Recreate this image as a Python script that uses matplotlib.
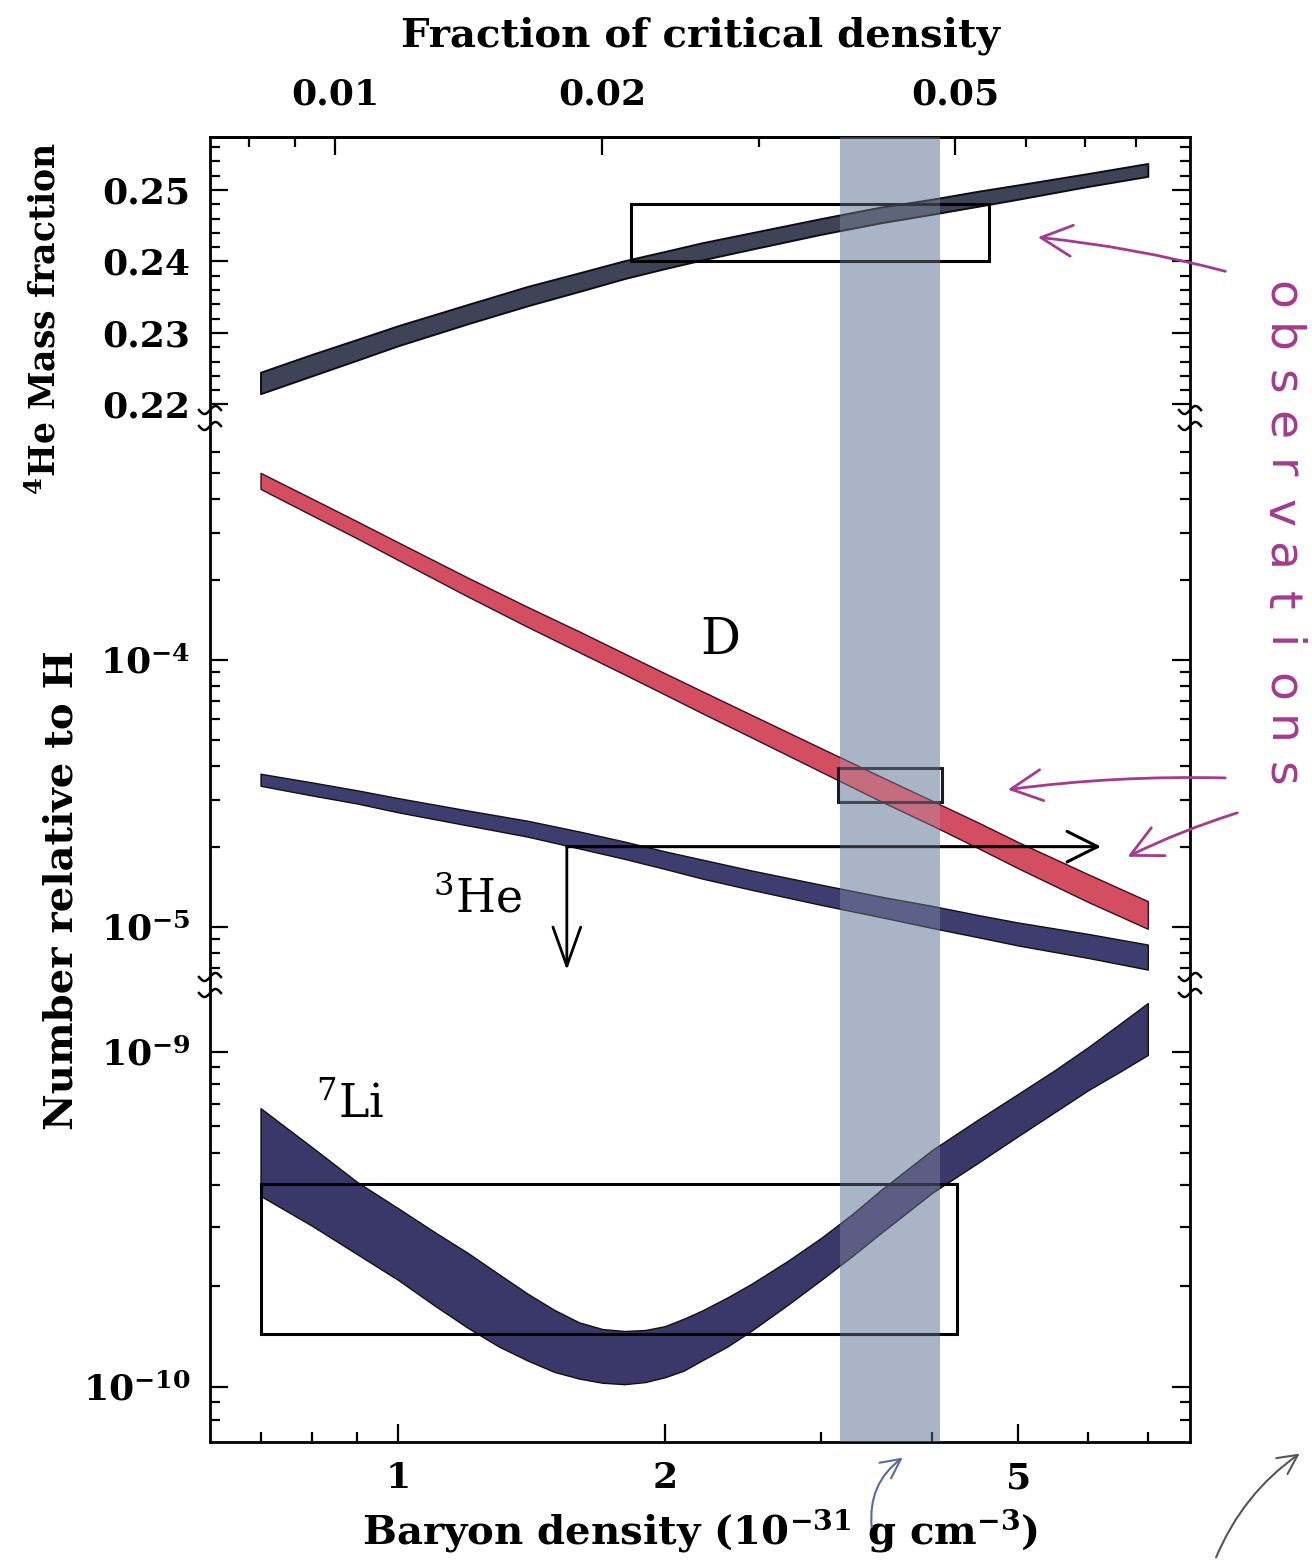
import numpy as np
import matplotlib
matplotlib.use('Agg')
import matplotlib.pyplot as plt
from matplotlib.patches import Rectangle, FancyArrowPatch
from matplotlib.lines import Line2D
from matplotlib.ticker import FixedLocator, FixedFormatter, NullFormatter

plt.rcParams['font.family'] = 'DejaVu Serif'
plt.rcParams['mathtext.fontset'] = 'dejavuserif'
plt.rcParams['mathtext.default'] = 'bf'

# baryon density, in units of 1e-31 g cm^-3
density = [0.7, 0.8, 0.9, 1.0, 1.2, 1.4, 1.6, 1.8, 2.0, 2.2,
           2.5, 3.0, 3.5, 4.0, 4.5, 5.0, 6.0, 7.0]

# predicted abundances (upper and lower edge of each band)
he4_high = [0.2245, 0.2270, 0.2291, 0.2310, 0.2340, 0.2365, 0.2384, 0.2401, 0.2414,
            0.2426, 0.2440, 0.2460, 0.2476, 0.2487, 0.2498, 0.2507, 0.2523, 0.2537]
he4_low = [0.2215, 0.2240, 0.2262, 0.2282, 0.2313, 0.2338, 0.2358, 0.2376, 0.2390,
           0.2402, 0.2417, 0.2438, 0.2454, 0.2466, 0.2477, 0.2487, 0.2505, 0.2519]
d_high = [5.02e-4, 4.02e-4, 3.30e-4, 2.76e-4, 2.03e-4, 1.58e-4, 1.28e-4, 1.057e-4, 8.91e-5,
          7.65e-5, 6.24e-5, 4.67e-5, 3.66e-5, 2.97e-5, 2.47e-5, 2.08e-5, 1.575e-5, 1.25e-5]
d_low = [4.37e-4, 3.48e-4, 2.85e-4, 2.37e-4, 1.725e-4, 1.33e-4, 1.07e-4, 8.83e-5, 7.42e-5,
         6.33e-5, 5.14e-5, 3.81e-5, 2.96e-5, 2.40e-5, 1.98e-5, 1.66e-5, 1.24e-5, 9.85e-6]
he3_high = [3.75e-5, 3.48e-5, 3.25e-5, 3.04e-5, 2.73e-5, 2.50e-5, 2.28e-5, 2.09e-5, 1.92e-5,
            1.79e-5, 1.63e-5, 1.44e-5, 1.30e-5, 1.20e-5, 1.11e-5, 1.04e-5, 9.42e-6, 8.60e-6]
he3_low = [3.38e-5, 3.11e-5, 2.90e-5, 2.69e-5, 2.40e-5, 2.18e-5, 1.97e-5, 1.80e-5, 1.65e-5,
           1.52e-5, 1.38e-5, 1.21e-5, 1.09e-5, 9.92e-6, 9.17e-6, 8.53e-6, 7.66e-6, 6.93e-6]

# 7Li has a trough, so it is read on a finer density grid
li7_density = [0.7, 0.8, 0.9, 1.0, 1.1, 1.2, 1.3, 1.4, 1.5, 1.6, 1.7, 1.8, 1.9, 2.0, 2.1,
               2.2, 2.35, 2.5, 2.75, 3.0, 3.25, 3.5, 4.0, 4.5, 5.0, 5.5, 6.0, 6.5, 7.0]
li7_high = [6.80e-10, 5.20e-10, 4.09e-10, 3.42e-10, 2.90e-10, 2.51e-10, 2.17e-10, 1.90e-10,
            1.70e-10, 1.56e-10, 1.49e-10, 1.47e-10, 1.48e-10, 1.52e-10, 1.60e-10, 1.69e-10,
            1.85e-10, 2.03e-10, 2.38e-10, 2.79e-10, 3.28e-10, 3.87e-10, 5.10e-10, 6.27e-10,
            7.50e-10, 8.83e-10, 1.035e-9, 1.21e-9, 1.40e-9]
li7_low = [3.72e-10, 3.03e-10, 2.49e-10, 2.09e-10, 1.75e-10, 1.50e-10, 1.32e-10, 1.20e-10,
           1.11e-10, 1.06e-10, 1.03e-10, 1.02e-10, 1.035e-10, 1.07e-10, 1.12e-10, 1.20e-10,
           1.32e-10, 1.47e-10, 1.76e-10, 2.09e-10, 2.46e-10, 2.88e-10, 3.80e-10, 4.66e-10,
           5.61e-10, 6.62e-10, 7.70e-10, 8.71e-10, 9.80e-10]

# observed ranges: [x0, x1], [y0, y1]
he4_obs_x = [1.83, 4.63]
he4_obs_y = [0.240, 0.248]
d_obs_x = [3.13, 4.10]
d_obs_y = [2.94e-5, 3.94e-5]
li7_obs_x = [0.70, 4.27]
li7_obs_y = [1.44e-10, 4.05e-10]
he3_limit = 2.0e-5
he3_limit_x = [1.55, 6.2]
he3_arrow_end = 6.9e-6

# concordance range of baryon density
concordance = [3.15, 4.08]

# Omega_b per unit of 1e-31 g cm^-3
crit_per_density = 0.01177
frac_major = [0.01, 0.02, 0.05]
frac_labels = ['0.01', '0.02', '0.05']
frac_minor = [0.008, 0.009, 0.03, 0.04, 0.06, 0.07, 0.08]

W, H = 1312, 1562
fig = plt.figure(figsize=(W / 100, H / 100), dpi=100)


def fpos(x, y):
    '''pixel position (from top left) -> figure fraction'''
    return x / W, 1 - y / H


L, R = 210, 1190
top_edges = [137, 418, 985, 1442]
axes = []
for i in range(3):
    y0, y1 = top_edges[i], top_edges[i + 1]
    axes.append(fig.add_axes([L / W, 1 - y1 / H, (R - L) / W, (y1 - y0) / H]))
ax_he4, ax_mid, ax_li = axes

tick_font = dict(size=26, weight='bold')
label_font = dict(size=29, weight='bold')

shade = '#a9b5c6'
for ax in axes:
    ax.set_xscale('log')
    ax.set_xlim(0.614, 7.81)
    ax.axvspan(*concordance, color=shade, lw=0, zorder=1)
    ax.axvspan(*concordance, color=shade, alpha=0.3, lw=0, zorder=6)
    for s in ax.spines.values():
        s.set_linewidth(2)
    ax.tick_params(which='both', direction='in', left=True, right=True,
                   top=False, bottom=False, labelbottom=False, width=1.6, pad=14)
    ax.tick_params(which='major', length=13)
    ax.tick_params(which='minor', length=7)

ax_he4.spines['bottom'].set_visible(False)
ax_mid.spines['top'].set_visible(False)
ax_mid.spines['bottom'].set_visible(False)
ax_li.spines['top'].set_visible(False)

# --- 4He panel
ax_he4.set_ylim(0.2181, 0.2574)
ax_he4.yaxis.set_major_locator(FixedLocator([0.22, 0.23, 0.24, 0.25]))
ax_he4.yaxis.set_major_formatter(FixedFormatter(['0.22', '0.23', '0.24', '0.25']))
ax_he4.yaxis.set_minor_locator(FixedLocator(np.arange(0.220, 0.2575, 0.002)))
ax_he4.fill_between(density, he4_low, he4_high, facecolor='#3e4358',
                    edgecolor='#0d0d12', lw=1.4, zorder=3)
ax_he4.add_patch(Rectangle((he4_obs_x[0], he4_obs_y[0]), he4_obs_x[1] - he4_obs_x[0],
                           he4_obs_y[1] - he4_obs_y[0], fill=False, ec='k', lw=2.2, zorder=4))

# fraction of critical density on the top axis
sec = ax_he4.secondary_xaxis('top', functions=(lambda x: x * crit_per_density,
                                               lambda f: f / crit_per_density))
sec.xaxis.set_major_locator(FixedLocator(frac_major))
sec.xaxis.set_major_formatter(FixedFormatter(frac_labels))
sec.xaxis.set_minor_locator(FixedLocator(frac_minor))
sec.xaxis.set_minor_formatter(NullFormatter())
sec.tick_params(which='both', direction='in', width=1.6, pad=18)
sec.tick_params(which='major', length=13)
sec.tick_params(which='minor', length=7)
sec.spines['top'].set_linewidth(2)
sec.set_xlabel('Fraction of critical density', fontdict=label_font, labelpad=23)

# --- D and 3He panel
ax_mid.set_yscale('log')
ax_mid.set_ylim(10 ** -5.217, 10 ** -3.094)
ax_mid.yaxis.set_major_locator(FixedLocator([1e-5, 1e-4]))
ax_mid.yaxis.set_major_formatter(FixedFormatter([r'$10^{-5}$', r'$10^{-4}$']))
ax_mid.yaxis.set_minor_locator(FixedLocator(
    [k * 1e-6 for k in range(7, 10)] + [k * 1e-5 for k in range(2, 10)]
    + [k * 1e-4 for k in range(2, 7)]))
ax_mid.yaxis.set_minor_formatter(NullFormatter())
ax_mid.fill_between(density, d_low, d_high, facecolor='#d24e60',
                    edgecolor='#3a1020', lw=1.0, zorder=3)
ax_mid.fill_between(density, he3_low, he3_high, facecolor='#3d3d70',
                    edgecolor='#111111', lw=1.0, zorder=3)
ax_mid.add_patch(Rectangle((d_obs_x[0], d_obs_y[0]), d_obs_x[1] - d_obs_x[0],
                           d_obs_y[1] - d_obs_y[0], fill=False, ec='#1a1a2a', lw=2.2, zorder=4))
ax_mid.annotate('', xy=(he3_limit_x[1], he3_limit), xytext=(he3_limit_x[0], he3_limit),
                arrowprops=dict(arrowstyle='->,head_length=2.2,head_width=1.1',
                                lw=2.2, color='k', shrinkA=0, shrinkB=0), zorder=5)
ax_mid.annotate('', xy=(he3_limit_x[0], he3_arrow_end), xytext=(he3_limit_x[0], he3_limit),
                arrowprops=dict(arrowstyle='->,head_length=2.8,head_width=1.0',
                                lw=2.0, color='k', shrinkA=0, shrinkB=0), zorder=5)
ax_mid.text(2.31, 1.19e-4, 'D', fontsize=36, ha='center', va='center')
ax_mid.text(1.23, 1.26e-5, r'$^{\mathrm{3}}$He', fontsize=33, ha='center', va='center')

# --- 7Li panel
ax_li.set_yscale('log')
ax_li.set_ylim(10 ** -10.164, 10 ** -8.8)
ax_li.yaxis.set_major_locator(FixedLocator([1e-10, 1e-9]))
ax_li.yaxis.set_major_formatter(FixedFormatter([r'$10^{-10}$', r'$10^{-9}$']))
ax_li.yaxis.set_minor_locator(FixedLocator([8e-11, 9e-11] + [k * 1e-10 for k in range(2, 10)]))
ax_li.yaxis.set_minor_formatter(NullFormatter())
ax_li.fill_between(li7_density, li7_low, li7_high, facecolor='#3a3868',
                   edgecolor='#111111', lw=1.0, zorder=3)
ax_li.add_patch(Rectangle((li7_obs_x[0], li7_obs_y[0]), li7_obs_x[1] - li7_obs_x[0],
                          li7_obs_y[1] - li7_obs_y[0], fill=False, ec='k', lw=2.2, zorder=4))
ax_li.text(0.883, 6.95e-10, r'$^{\mathrm{7}}$Li', fontsize=33, ha='center', va='center')

ax_li.tick_params(which='both', bottom=True, labelbottom=True)
ax_li.xaxis.set_major_locator(FixedLocator([1, 2, 5]))
ax_li.xaxis.set_major_formatter(FixedFormatter(['1', '2', '5']))
ax_li.xaxis.set_minor_locator(FixedLocator([0.7, 0.8, 0.9, 3, 4, 6, 7]))
ax_li.xaxis.set_minor_formatter(NullFormatter())
ax_li.set_xlabel(r'Baryon density ($10^{-31}$ g cm$^{-3}$)', fontdict=label_font, labelpad=8)

for lab in (ax_he4.get_yticklabels() + ax_mid.get_yticklabels() + ax_li.get_yticklabels()
            + ax_li.get_xticklabels() + sec.xaxis.get_ticklabels()):
    lab.set_fontsize(tick_font['size'])
    lab.set_fontweight(tick_font['weight'])

# y labels
fig.text(*fpos(45, 318), r'$^{4}$He Mass fraction', rotation=90, fontsize=25,
         fontweight='bold', ha='center', va='center')
fig.text(*fpos(62, 890), 'Number relative to H', rotation=90, fontsize=29,
         fontweight='bold', ha='center', va='center')

# axis break marks on both spines
t = np.linspace(-1, 1, 40)
for yb in top_edges[1:3]:
    for xs in (L, R):
        for dy in (-8, 8):
            xx = (xs + 11 * t) / W
            yy = 1 - (yb + dy - 4 * np.sin(np.pi * t)) / H
            fig.add_artist(Line2D(xx, yy, color='k', lw=1.8, transform=fig.transFigure))

# hand-written notes
ink = '#a23c8e'
word = 'observations'
for i, ch in enumerate(word):
    fig.text(*fpos(1280, 295 + i * 43.6), ch, rotation=-90, fontsize=34,
             color=ink, ha='center', va='center', family='DejaVu Sans')

for (x0, y0), (x1, y1) in [((1228, 272), (1035, 237)),
                           ((1228, 778), (1005, 790)),
                           ((1240, 812), (1125, 858))]:
    fig.add_artist(FancyArrowPatch(fpos(x0, y0), fpos(x1, y1), transform=fig.transFigure,
                                   arrowstyle='->,head_length=1.6,head_width=0.8',
                                   mutation_scale=14, color=ink, lw=2.0,
                                   connectionstyle='arc3,rad=0.04'))

fig.add_artist(FancyArrowPatch(fpos(872, 1530), fpos(905, 1456), transform=fig.transFigure,
                               arrowstyle='->,head_length=1.0,head_width=0.5',
                               mutation_scale=14, color='#5a6a9a', lw=1.5,
                               connectionstyle='arc3,rad=-0.3'))
fig.add_artist(FancyArrowPatch(fpos(1215, 1560), fpos(1302, 1452), transform=fig.transFigure,
                               arrowstyle='->,head_length=1.0,head_width=0.5',
                               mutation_scale=14, color='#555555', lw=1.5,
                               connectionstyle='arc3,rad=-0.15'))

fig.savefig('out.png', dpi=100)
